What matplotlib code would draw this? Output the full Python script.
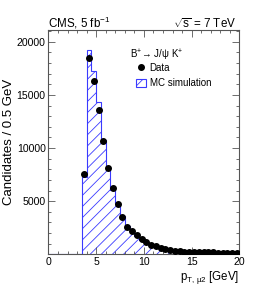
import numpy as np
import matplotlib
matplotlib.use("Agg")
import matplotlib.pyplot as plt
from matplotlib.lines import Line2D
from matplotlib.patches import Patch

plt.rcParams['font.family'] = ['Liberation Sans', 'DejaVu Sans']
plt.rcParams['hatch.linewidth'] = 0.6
plt.rcParams['mathtext.fontset'] = 'custom'
plt.rcParams['mathtext.rm'] = 'Liberation Sans'
plt.rcParams['mathtext.it'] = 'Liberation Sans'

# bin edges 0..20 in 0.5 GeV steps
bin_edges = np.arange(0, 20.5, 0.5)

# MC simulation (per bin, 0-20 GeV)
mc_values = [0, 0, 0, 0, 0, 0, 0,
             7300, 19220, 17240, 14360, 10750, 8180, 6100, 4800, 3600,
             2650, 2120, 1720, 1400, 1100, 860, 700, 560, 450, 370,
             300, 240, 200, 170, 145, 125, 110, 95, 85, 75, 70, 62, 56, 50]

# Data points (bin centres from 3.75 GeV)
data_x = [3.75, 4.25, 4.75, 5.25, 5.75, 6.25, 6.75, 7.25, 7.75, 8.25,
          8.75, 9.25, 9.75, 10.25, 10.75, 11.25, 11.75, 12.25, 12.75, 13.25,
          13.75, 14.25, 14.75, 15.25, 15.75, 16.25, 16.75, 17.25, 17.75, 18.25,
          18.75, 19.25, 19.75]
data_y = [7550, 18440, 16300, 13550, 10690, 8090, 6270, 4700, 3540, 2620,
          2170, 1800, 1480, 1180, 930, 770, 630, 520, 430, 360,
          300, 270, 250, 230, 215, 200, 190, 180, 170, 165,
          160, 155, 150]

fig = plt.figure(figsize=(2.66, 3.0), dpi=100)
ax = fig.add_axes([0.182, 0.152, 0.718, 0.748])

blue = '#3a3aff'
ax.stairs(mc_values, bin_edges, fill=False, hatch='///', edgecolor=blue,
          linewidth=0.8, baseline=0)
ax.plot(data_x, data_y, 'o', color='black', markersize=4, zorder=5)

ax.set_xlim(0, 20)
ax.set_ylim(0, 21100)
ax.set_xticks([0, 5, 10, 15, 20])
ax.set_xticks(np.arange(0, 21, 1), minor=True)
ax.set_yticks([5000, 10000, 15000, 20000])
ax.set_yticks(np.arange(0, 21001, 1000), minor=True)

for s in ax.spines.values():
    s.set_color('#555555')
    s.set_linewidth(0.8)
ax.tick_params(which='both', direction='in', top=True, right=True,
               labelsize=7.6, color='#555555', width=0.6, pad=2)
ax.tick_params(which='major', length=5)
ax.tick_params(which='minor', length=2.5)

ax.set_ylabel('Candidates / 0.5 GeV', fontsize=9.5, labelpad=1)
ax.set_xlabel(r'p$_{\mathrm{T,\,\mu2}}$ [GeV]', fontsize=8.3, loc='right', labelpad=1)

fig.text(0.182, 0.907, r'CMS, 5 fb$^{-1}$', fontsize=8.4, ha='left', va='baseline')
fig.text(0.888, 0.907, r'$\sqrt{\mathrm{s}}$ = 7 TeV', fontsize=8.4, ha='right', va='baseline')

fig.text(0.489, 0.814, r'B$^{+}$$\!\rightarrow\!$ J/$\psi$ K$^{+}$', fontsize=7.0,
         ha='left', va='center')
handles = [Line2D([], [], marker='o', linestyle='none', color='black', markersize=4),
           Patch(facecolor='none', edgecolor=blue, hatch='///', linewidth=0.8)]
ax.legend(handles, ['Data', 'MC simulation'], loc='upper left',
          bbox_to_anchor=(0.506, 0.793), bbox_transform=fig.transFigure,
          frameon=False, fontsize=7.0, handlelength=1.1, handleheight=1.0,
          handletextpad=0.35, labelspacing=0.55, borderpad=0.1, borderaxespad=0)

fig.savefig('out.png', dpi=100)
